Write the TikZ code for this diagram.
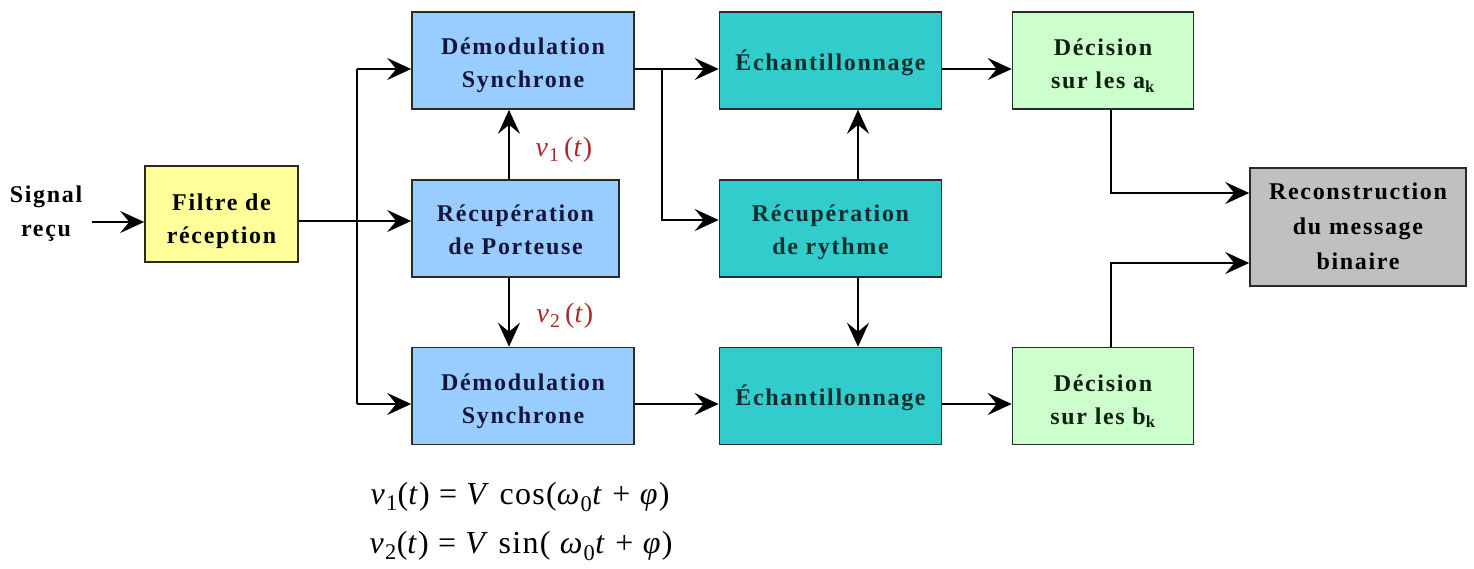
\documentclass[tikz,border=0pt]{standalone}
\usepackage{fontspec}
\setmainfont{Liberation Serif}
\newfontfamily\boxfont[LetterSpace=7]{Liberation Serif}
\newfontfamily\eqfont[LetterSpace=4]{Liberation Serif}
\usetikzlibrary{arrows.meta,calc}
\definecolor{cyel}{HTML}{FFFF99}
\definecolor{cblue}{HTML}{99CCFF}
\definecolor{cteal}{HTML}{33CCCC}
\definecolor{cgreen}{HTML}{CCFFCC}
\definecolor{cgray}{HTML}{C0C0C0}
\definecolor{cborder}{HTML}{2A2A2A}
\definecolor{cred}{HTML}{AA2828}
\definecolor{tnavy}{HTML}{14143C}
\definecolor{tteal}{HTML}{0E2E2E}
\definecolor{tgreen}{HTML}{0F200F}
\newcommand{\btext}[2][-4pt]{\raisebox{#1}[\height][\depth]{\begin{tabular}{@{}c@{}}#2\end{tabular}}}
\begin{document}
\begin{tikzpicture}[x=1pt,y=-1pt,
  box/.style={draw=cborder, line width=1.6pt, inner sep=0pt, align=center,
    font=\boxfont\bfseries\fontsize{24}{33}\selectfont},
  wide/.style={minimum width=222pt, minimum height=97pt},
  arr/.style={line width=1.5pt, -{Stealth[length=24pt,width=22pt,inset=9pt]}},
  ln/.style={line width=1.5pt},
  vlab/.style={text=cred, font=\eqfont\fontsize{28}{30}\selectfont},
  eq/.style={font=\eqfont\fontsize{32}{34}\selectfont}]
\useasboundingbox (0,0) rectangle (1474,568);

\node[font=\boxfont\bfseries\fontsize{24}{34}\selectfont, align=center, inner sep=0pt] (sig) at (46,214) {Signal\\reçu};

\node[box, fill=cyel, minimum width=153pt, minimum height=96pt] (filt) at (221.5,214) {\btext[-6pt]{Filtre de\\réception}};

\node[box, wide, fill=cblue, text=tnavy] (dem1) at (523,60.5) {\btext{Démodulation\\Synchrone}};
\node[box, fill=cblue, text=tnavy, minimum width=207pt, minimum height=97pt] (rp) at (515.5,228.5) {\btext[-3pt]{Récupération\\de Porteuse}};
\node[box, wide, fill=cblue, text=tnavy] (dem2) at (523,396) {\btext{Démodulation\\Synchrone}};

\node[box, wide, fill=cteal, text=tteal] (ech1) at (830.5,60.5) {\btext[-3pt]{Échantillonnage}};
\node[box, wide, fill=cteal, text=tteal] (rr) at (830.5,228.5) {\btext[-3pt]{Récupération\\de rythme}};
\node[box, wide, fill=cteal, text=tteal] (ech2) at (830.5,396) {\btext[-3pt]{Échantillonnage}};

\node[box, fill=cgreen, text=tgreen, minimum width=181pt, minimum height=97pt] (da) at (1103,60.5) {\btext[-5pt]{Décision\\sur les a\textsubscript{k}}};
\node[box, fill=cgreen, text=tgreen, minimum width=181pt, minimum height=97pt] (db) at (1103,396) {\btext[-5pt]{Décision\\sur les b\textsubscript{k}}};

\node[box, fill=cgray, text=black, minimum width=216pt, minimum height=118pt,
  font=\boxfont\bfseries\fontsize{24}{35}\selectfont] (rec) at (1358,227) {\btext[0pt]{Reconstruction\\du message\\binaire}};

\node[vlab] (v1) at (564,150) {\textit{v}\textsubscript{1}\,(\textit{t})};
\node[vlab] (v2) at (565,316) {\textit{v}\textsubscript{2}\,(\textit{t})};

\node[eq] (eq1) at (520,497) {\textit{v}\textsubscript{1}(\textit{t}) = \textit{V} cos(\textit{ω}\textsubscript{0}\textit{t} + \textit{φ})};
\node[eq] (eq2) at (521,546) {\textit{v}\textsubscript{2}(\textit{t}) = \textit{V} sin( \textit{ω}\textsubscript{0}\textit{t} + \textit{φ})};

\coordinate (btop) at (357,69);
\coordinate (bbot) at (357,404);
\coordinate (bt) at (662,69);

% input
\draw[arr] ([xshift=10pt,yshift=-8pt]sig.east) -- ([yshift=-8pt]filt.west);
\draw[arr] ([yshift=-7pt]filt.east) -- ([yshift=-7pt]filt.east -| rp.west);
% bus
\draw[ln] (btop) -- (bbot);
\draw[arr] (btop) -- (btop -| dem1.west);
\draw[arr] (bbot) -- (bbot -| dem2.west);
% carrier
\draw[arr] ([xshift=-6.5pt]rp.north) -- ([xshift=-6.5pt]rp.north |- dem1.south);
\draw[arr] ([xshift=-6.5pt]rp.south) -- ([xshift=-6.5pt]rp.south |- dem2.north);
% sampling
\draw[arr] ([yshift=-8.5pt]dem1.east) -- ([yshift=-8.5pt]dem1.east -| ech1.west);
\draw[arr] (bt) |- ([yshift=8.5pt]rr.west);
\draw[arr] ([yshift=-8pt]dem2.east) -- ([yshift=-8pt]dem2.east -| ech2.west);
\draw[arr] ([xshift=27.5pt]rr.north) -- ([xshift=27.5pt]rr.north |- ech1.south);
\draw[arr] ([xshift=27.5pt]rr.south) -- ([xshift=27.5pt]rr.south |- ech2.north);
% decisions
\draw[arr] ([yshift=-8.5pt]ech1.east) -- ([yshift=-8.5pt]ech1.east -| da.west);
\draw[arr] ([yshift=-8pt]ech2.east) -- ([yshift=-8pt]ech2.east -| db.west);
% reconstruction
\draw[arr] ([xshift=8pt]da.south) |- ([yshift=34pt]rec.west);
\draw[arr] ([xshift=8pt]db.north) |- ([yshift=-36pt]rec.west);
\end{tikzpicture}
\end{document}
